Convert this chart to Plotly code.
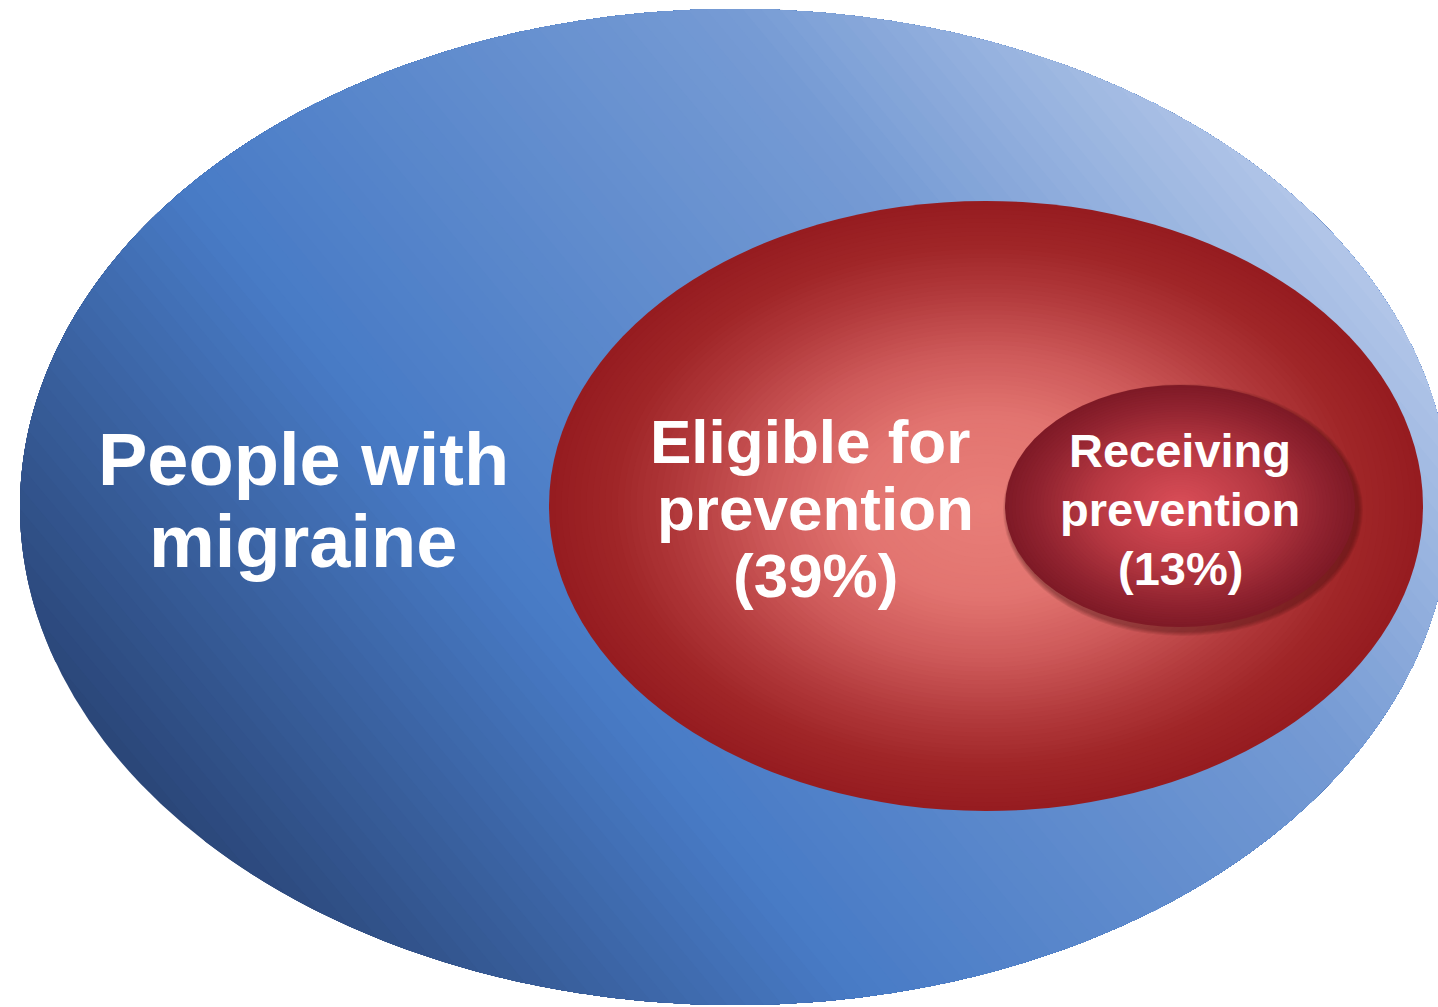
import numpy as np
import plotly.graph_objects as go

# ---- data ----
groups = ["People with migraine", "Eligible for prevention", "Receiving prevention"]
shares = [100, 39, 13]
label_lines = [["People with", "migraine"],
               ["Eligible for", "prevention"],
               ["Receiving", "prevention"]]

# ---- geometry / style (pixel space of the canvas) ----
W, H = 1438, 1007
OUTER = (735, 507, 715, 498)
MIDDLE = (986, 506, 437, 305)
INNER = (1180, 506, 175, 121)

BLUE_STOPS = [(0.0, (42, 70, 120)), (0.33, (72, 123, 198)), (0.75, (118, 155, 212)),
              (1.0, (178, 198, 232))]
RED_STOPS = [(0.0, (232, 126, 120)), (0.3, (226, 116, 112)), (0.5, (206, 90, 90)),
             (0.7, (178, 58, 60)), (0.85, (160, 38, 40)), (1.0, (150, 28, 32))]
DARK_STOPS = [(0.0, (218, 78, 88)), (0.5, (182, 56, 66)), (0.8, (146, 36, 48)),
              (1.0, (126, 25, 38))]


def interp(stops, t):
    t = min(max(t, 0.0), 1.0)
    for (t0, c0), (t1, c1) in zip(stops[:-1], stops[1:]):
        if t <= t1:
            f = 0 if t1 == t0 else (t - t0) / (t1 - t0)
            c = [round(a + (b - a) * f) for a, b in zip(c0, c1)]
            return "rgb(%d,%d,%d)" % tuple(c)
    return "rgb(%d,%d,%d)" % stops[-1][1]


def ellipse_pts(cx, cy, rx, ry, n=360):
    a = np.linspace(0, 2 * np.pi, n, endpoint=False)
    return list(zip(cx + rx * np.cos(a), cy + ry * np.sin(a)))


def clip_half(poly, nx, ny, c):
    out = []
    m = len(poly)
    for i in range(m):
        p, q = poly[i], poly[(i + 1) % m]
        fp = nx * p[0] + ny * p[1] - c
        fq = nx * q[0] + ny * q[1] - c
        if fp >= 0:
            out.append(p)
        if (fp >= 0) != (fq >= 0):
            s = fp / (fp - fq)
            out.append((p[0] + s * (q[0] - p[0]), p[1] + s * (q[1] - p[1])))
    return out


def path_of(poly):
    return "M " + " L ".join("%.2f,%.2f" % (x, y) for x, y in poly) + " Z"


shapes = []

# outer blue ellipse with linear gradient (painted as clipped bands)
cx, cy, rx, ry = OUTER
nx, ny = 0.768, -0.640
pc = nx * cx + ny * cy
half = np.hypot(nx * rx, ny * ry)
pmin, pmax = pc - half, pc + half
NB = 90
base = ellipse_pts(cx, cy, rx, ry, 540)
shapes.append(dict(type="circle", xref="x", yref="y", x0=cx - rx, x1=cx + rx,
                   y0=cy - ry, y1=cy + ry, fillcolor=interp(BLUE_STOPS, 0.5 / NB),
                   line=dict(width=0), layer="below"))
for k in range(1, NB):
    thr = pmin + (pmax - pmin) * k / NB
    poly = clip_half(base, nx, ny, thr)
    if len(poly) < 3:
        continue
    shapes.append(dict(type="path", xref="x", yref="y", path=path_of(poly),
                       fillcolor=interp(BLUE_STOPS, (k + 0.5) / NB),
                       line=dict(width=0), layer="below"))


def radial(ellipse, stops, n=60):
    ex, ey, erx, ery = ellipse
    for k in range(n):
        s = 1 - k / n
        shapes.append(dict(type="circle", xref="x", yref="y",
                           x0=ex - erx * s, x1=ex + erx * s,
                           y0=ey - ery * s, y1=ey + ery * s,
                           fillcolor=interp(stops, s - 0.5 / n),
                           line=dict(width=0), layer="below"))


radial(MIDDLE, RED_STOPS, 70)

# drop shadow of the inner ellipse
ix, iy, irx, iry = INNER
for k in range(5, 0, -1):
    shapes.append(dict(type="circle", xref="x", yref="y",
                       x0=ix - irx - k + 3, x1=ix + irx + k + 3,
                       y0=iy - iry - k + 4, y1=iy + iry + k + 4,
                       fillcolor="rgba(60,8,14,0.09)", line=dict(width=0),
                       layer="below"))

radial(INNER, DARK_STOPS, 50)

# ---- labels ----
font_family = "Liberation Sans, Arial, sans-serif"
label_specs = [
    # (center x, first baseline, line spacing, font size)
    (OUTER[0] - 432, 482, 82, 74),
    (MIDDLE[0] - 176, 460, 67, 62),
    (INNER[0], 465, 59, 47),
]
annotations = []
for i, (gx, base_y, step, size) in enumerate(label_specs):
    lines = list(label_lines[i])
    if i > 0:
        lines.append("(%d%%)" % shares[i])
    for j, txt in enumerate(lines):
        gxx = gx if not (i == 1 and j > 0) else gx + 5
        annotations.append(dict(x=gxx, y=base_y + j * step - 0.30 * size,
                                xref="x", yref="y", text="<b>%s</b>" % txt,
                                showarrow=False, xanchor="center", yanchor="middle",
                                font=dict(family=font_family, size=size, color="white")))

fig = go.Figure(go.Scatter(x=[OUTER[0]], y=[OUTER[1]], mode="markers",
                           marker=dict(opacity=0), hoverinfo="skip",
                           name=groups[0]))
fig.update_layout(
    width=W, height=H, margin=dict(l=0, r=0, t=0, b=0),
    paper_bgcolor="white", plot_bgcolor="white", showlegend=False,
    xaxis=dict(range=[0, W], visible=False, fixedrange=True),
    yaxis=dict(range=[H, 0], visible=False, fixedrange=True),
    shapes=shapes, annotations=annotations,
)
fig.write_html("out.html")
